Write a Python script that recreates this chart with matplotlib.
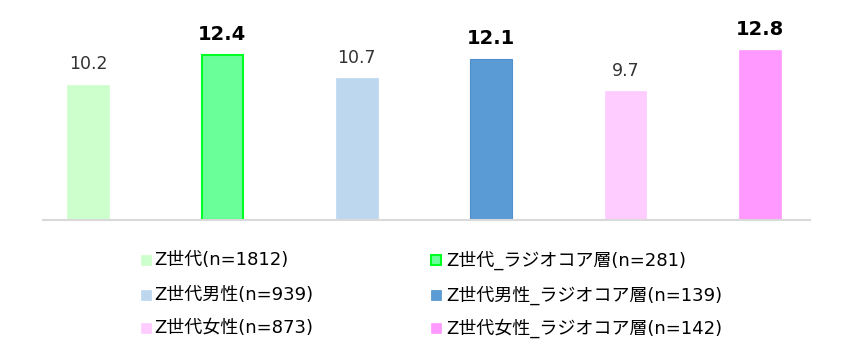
import matplotlib
matplotlib.use("Agg")
import matplotlib.pyplot as plt
from matplotlib.patches import Rectangle

plt.rcParams['font.family'] = ['DejaVu Sans', 'Noto Sans CJK JP']

# ---- data ----
categories = ["Z世代(n=1812)", "Z世代_ラジオコア層(n=281)",
              "Z世代男性(n=939)", "Z世代男性_ラジオコア層(n=139)",
              "Z世代女性(n=873)", "Z世代女性_ラジオコア層(n=142)"]
values = [10.2, 12.4, 10.7, 12.1, 9.7, 12.8]
is_core = [False, True, False, True, False, True]
face_colors = ["#CCFFCC", "#6BFF99", "#BDD7EE", "#5B9BD5", "#FFCCFF", "#FF99FF"]
edge_colors = ["#CCFFCC", "#00FF22", "#BDD7EE", "#5090CC", "#FFCCFF", "#FF99FF"]
edge_widths = [0.5, 1.5, 0.5, 0.8, 0.5, 0.5]

W, H = 850, 356
fig = plt.figure(figsize=(W / 100, H / 100), dpi=100)

ax_left, ax_right, ax_base = 43, 810, 220
ax = fig.add_axes([ax_left / W, 1 - ax_base / H, (ax_right - ax_left) / W, ax_base / H])

x = list(range(len(values)))
bars = ax.bar(x, values, width=0.31, color=face_colors, edgecolor=edge_colors,
              linewidth=edge_widths, zorder=2)

for xi, v, core in zip(x, values, is_core):
    ax.annotate(f"{v:.1f}", (xi, v), xytext=(0, 11), textcoords="offset points",
                ha="center", va="baseline",
                fontsize=14 if core else 12.5,
                fontweight="bold" if core else "normal",
                color="#000000" if core else "#333333",
                fontfamily="DejaVu Sans")

ax.set_xlim(-0.335, 5.372)
ax.set_ylim(0, 16.57)
for s in ["top", "right", "left"]:
    ax.spines[s].set_visible(False)
ax.spines["bottom"].set_color("#D9D9D9")
ax.spines["bottom"].set_linewidth(1.5)
ax.set_xticks([])
ax.set_yticks([])
ax.patch.set_alpha(0)

# ---- legend (two columns, three rows) ----
col_sq_x = [141, 431]
col_txt_x = [154, 446]
row_y = [260, 295, 328]
sq = 10
for i, (lab, fc, ec, lw) in enumerate(zip(categories, face_colors, edge_colors, edge_widths)):
    c = i % 2
    r = i // 2
    yc = row_y[r]
    rect = Rectangle((col_sq_x[c] / W, 1 - (yc + sq / 2) / H), sq / W, sq / H,
                     transform=fig.transFigure, facecolor=fc, edgecolor=ec,
                     linewidth=lw if lw > 1 else 0.5)
    fig.add_artist(rect)
    fig.text(col_txt_x[c] / W, 1 - yc / H, lab, fontsize=13, va="center",
             ha="left", color="#000000",
             fontfamily=['DejaVu Sans', 'Noto Sans CJK JP'])

fig.savefig("out.png", dpi=100, facecolor="white")
